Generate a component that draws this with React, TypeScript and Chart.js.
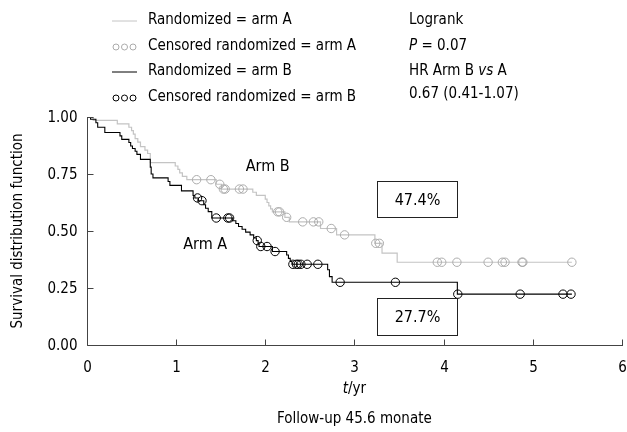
import React, { useEffect, useRef } from 'react';
import { Chart, registerables } from 'chart.js';

Chart.register(...registerables);

// ---- Data ----
// Arm drawn in light gray (legend: "Randomized = arm A", on-plot label "Arm B")
const grayTimes = [0, 0.07, 0.34, 0.47, 0.50, 0.52, 0.54, 0.57, 0.60, 0.65, 0.68, 0.71, 0.99, 1.02, 1.04, 1.07, 1.12, 1.45, 1.51, 1.86, 1.90, 2.00, 2.02, 2.04, 2.06, 2.08, 2.22, 2.27, 2.62, 2.80, 3.23, 3.31, 3.48, 5.44];
const graySurv = [1.0, 0.985, 0.97, 0.955, 0.94, 0.925, 0.905, 0.89, 0.87, 0.855, 0.84, 0.80, 0.785, 0.77, 0.755, 0.74, 0.725, 0.705, 0.684, 0.67, 0.656, 0.64, 0.625, 0.61, 0.597, 0.584, 0.56, 0.54, 0.511, 0.483, 0.446, 0.403, 0.363, 0.363];
const grayCensored = [1.23, 1.39, 1.49, 1.53, 1.55, 1.71, 1.75, 2.14, 2.16, 2.24, 2.42, 2.54, 2.60, 2.74, 2.89, 3.24, 3.28, 3.93, 3.98, 4.15, 4.50, 4.66, 4.69, 4.88, 4.89, 5.44];

// Arm drawn in black (legend: "Randomized = arm B", on-plot label "Arm A")
const blackTimes = [0, 0.04, 0.10, 0.12, 0.20, 0.37, 0.39, 0.47, 0.49, 0.51, 0.54, 0.56, 0.60, 0.71, 0.72, 0.74, 0.91, 0.93, 1.06, 1.19, 1.21, 1.25, 1.31, 1.33, 1.36, 1.40, 1.63, 1.67, 1.70, 1.74, 1.78, 1.83, 1.87, 1.90, 1.92, 1.93, 2.08, 2.24, 2.26, 2.28, 2.30, 2.70, 2.72, 2.75, 4.155, 5.44];
const blackSurv = [1.0, 0.99, 0.975, 0.955, 0.932, 0.917, 0.902, 0.888, 0.873, 0.862, 0.85, 0.836, 0.814, 0.78, 0.75, 0.733, 0.717, 0.70, 0.676, 0.656, 0.645, 0.633, 0.615, 0.60, 0.585, 0.557, 0.545, 0.533, 0.52, 0.508, 0.495, 0.483, 0.47, 0.458, 0.445, 0.432, 0.41, 0.395, 0.38, 0.366, 0.354, 0.33, 0.30, 0.275, 0.223, 0.223];
const blackCensored = [1.24, 1.29, 1.45, 1.58, 1.60, 1.91, 1.95, 2.02, 2.11, 2.31, 2.35, 2.37, 2.40, 2.47, 2.59, 2.84, 3.46, 4.16, 4.86, 5.34, 5.43];

const xTickValues = [0, 1, 2, 3, 4, 5, 6];
const xTickLabels = ['0', '1', '2', '3', '4', '5', '6'];
const yTickValues = [0, 0.25, 0.5, 0.75, 1];
const yTickLabels = ['0.00', '0.25', '0.50', '0.75', '1.00'];

const legendLabels = [
  'Randomized = arm A',
  'Censored randomized = arm A',
  'Randomized = arm B',
  'Censored randomized = arm B',
];
const armLabels = ['Arm B', 'Arm A'];
const boxLabels = ['47.4%', '27.7%'];
const yTitle = 'Survival distribution function';
const xTitle = '/yr';
const subTitle = 'Follow-up 45.6 monate';

// ---- Styles ----
const FONT = '"DejaVu Sans Condensed", "DejaVu Sans", sans-serif';
const GRAY_LINE = '#c4c4c4';
const GRAY_MARK = '#ababab';
const AXIS = '#444444';

function survAt(times: number[], surv: number[], t: number) {
  let s = surv[0];
  for (let i = 0; i < times.length; i++) {
    if (times[i] <= t) s = surv[i];
  }
  return s;
}

type Seg = { text: string; italic?: boolean };

function drawSegs(ctx: CanvasRenderingContext2D, segs: Seg[], x: number, y: number, size: number, align: 'left' | 'center') {
  const fonts = segs.map((s) => `${s.italic ? 'italic ' : ''}${size}px ${FONT}`);
  const widths = segs.map((s, i) => {
    ctx.font = fonts[i];
    return ctx.measureText(s.text).width;
  });
  const total = widths.reduce((a, b) => a + b, 0);
  let cx = align === 'center' ? x - total / 2 : x;
  ctx.textAlign = 'left';
  ctx.textBaseline = 'middle';
  segs.forEach((s, i) => {
    ctx.font = fonts[i];
    ctx.fillText(s.text, cx, y);
    cx += widths[i];
  });
}

const decorPlugin = {
  id: 'decor',
  afterDraw(chart: any) {
    const ctx: CanvasRenderingContext2D = chart.ctx;
    const xs = chart.scales.x;
    const ys = chart.scales.y;
    ctx.save();
    ctx.fillStyle = '#000';
    ctx.strokeStyle = AXIS;
    ctx.lineWidth = 1;

    // axes
    const x0 = Math.round(xs.getPixelForValue(0)) + 0.5;
    const y0 = Math.round(ys.getPixelForValue(0)) + 0.5;
    ctx.beginPath();
    ctx.moveTo(x0, Math.round(ys.getPixelForValue(1)));
    ctx.lineTo(x0, y0);
    ctx.lineTo(Math.round(xs.getPixelForValue(6)) + 1, y0);
    ctx.stroke();

    // y ticks (inward) + labels
    ctx.font = `15px ${FONT}`;
    yTickValues.forEach((v, i) => {
      const py = Math.round(ys.getPixelForValue(v)) + 0.5;
      ctx.beginPath();
      ctx.moveTo(x0, py);
      ctx.lineTo(x0 + 6, py);
      ctx.stroke();
      ctx.textAlign = 'right';
      ctx.textBaseline = 'middle';
      ctx.fillText(yTickLabels[i], x0 - 10, py + 1);
    });
    // x ticks (inward) + labels
    xTickValues.forEach((v, i) => {
      const px = Math.round(xs.getPixelForValue(v)) + 0.5;
      ctx.beginPath();
      ctx.moveTo(px, y0);
      ctx.lineTo(px, y0 - 6);
      ctx.stroke();
      ctx.textAlign = 'center';
      ctx.textBaseline = 'middle';
      ctx.fillText(xTickLabels[i], px, y0 + 23);
    });

    // axis titles
    const midX = (xs.getPixelForValue(0) + xs.getPixelForValue(6)) / 2;
    drawSegs(ctx, [{ text: 't', italic: true }, { text: xTitle }], midX, y0 + 44, 15, 'center');
    drawSegs(ctx, [{ text: subTitle }], midX, y0 + 74, 15, 'center');
    ctx.save();
    ctx.translate(18, (ys.getPixelForValue(0) + ys.getPixelForValue(1)) / 2);
    ctx.rotate(-Math.PI / 2);
    drawSegs(ctx, [{ text: yTitle }], 0, 0, 15, 'center');
    ctx.restore();

    // on-plot arm labels
    ctx.fillStyle = '#000';
    drawSegs(ctx, [{ text: armLabels[0] }], xs.getPixelForValue(1.78), ys.getPixelForValue(0.78), 16, 'left');
    drawSegs(ctx, [{ text: armLabels[1] }], xs.getPixelForValue(1.08), ys.getPixelForValue(0.44), 16, 'left');

    // boxed percentages
    const boxes = [
      { t0: 3.25, t1: 4.15, s0: 0.56, s1: 0.72, label: boxLabels[0] },
      { t0: 3.25, t1: 4.15, s0: 0.045, s1: 0.205, label: boxLabels[1] },
    ];
    boxes.forEach((b) => {
      const bx0 = Math.round(xs.getPixelForValue(b.t0)) + 0.5;
      const bx1 = Math.round(xs.getPixelForValue(b.t1)) + 0.5;
      const by0 = Math.round(ys.getPixelForValue(b.s1)) + 0.5;
      const by1 = Math.round(ys.getPixelForValue(b.s0)) + 0.5;
      ctx.fillStyle = '#fff';
      ctx.fillRect(bx0, by0, bx1 - bx0, by1 - by0);
      ctx.strokeStyle = '#222';
      ctx.strokeRect(bx0, by0, bx1 - bx0, by1 - by0);
      ctx.fillStyle = '#000';
      drawSegs(ctx, [{ text: b.label }], (bx0 + bx1) / 2, (by0 + by1) / 2 + 1, 16, 'center');
    });

    // legend
    const lx0 = 112, lx1 = 137, tx = 148;
    const rows = [20.5, 46, 71.5, 97];
    ctx.lineWidth = 1;
    ctx.strokeStyle = GRAY_LINE;
    ctx.beginPath();
    ctx.moveTo(lx0, rows[0] + 0.5);
    ctx.lineTo(lx1, rows[0] + 0.5);
    ctx.stroke();
    ctx.strokeStyle = '#000';
    ctx.beginPath();
    ctx.moveTo(lx0, rows[2] + 0.5);
    ctx.lineTo(lx1, rows[2] + 0.5);
    ctx.stroke();
    [[rows[1], GRAY_MARK], [rows[3], '#000']].forEach(([ry, col]) => {
      ctx.strokeStyle = col as string;
      [116, 124.5, 133].forEach((cx) => {
        ctx.beginPath();
        ctx.arc(cx, (ry as number) + 1, 3, 0, Math.PI * 2);
        ctx.stroke();
      });
    });
    ctx.fillStyle = '#000';
    legendLabels.forEach((l, i) => drawSegs(ctx, [{ text: l }], tx, rows[i], 15, 'left'));

    // statistics
    const rx = 409;
    drawSegs(ctx, [{ text: 'Logrank' }], rx, rows[0], 15, 'left');
    drawSegs(ctx, [{ text: 'P', italic: true }, { text: ' = 0.07' }], rx, rows[1], 15, 'left');
    drawSegs(ctx, [{ text: 'HR Arm B ' }, { text: 'vs', italic: true }, { text: ' A' }], rx, rows[2], 15, 'left');
    drawSegs(ctx, [{ text: '0.67 (0.41-1.07)' }], rx, rows[3] - 3, 15, 'left');

    ctx.restore();
  },
};

export default function App() {
  const ref = useRef<HTMLCanvasElement | null>(null);

  useEffect(() => {
    if (!ref.current) return;
    const grayPts = grayTimes.map((t, i) => ({ x: t, y: graySurv[i] }));
    const blackPts = blackTimes.map((t, i) => ({ x: t, y: blackSurv[i] }));
    const grayCens = grayCensored.map((t) => ({ x: t, y: survAt(grayTimes, graySurv, t) }));
    const blackCens = blackCensored.map((t) => ({ x: t, y: survAt(blackTimes, blackSurv, t) }));

    const chart = new Chart(ref.current, {
      type: 'line',
      data: {
        datasets: [
          {
            data: grayPts,
            stepped: 'before',
            borderColor: GRAY_LINE,
            borderWidth: 1.2,
            pointRadius: 0,
            fill: false,
            order: 4,
          },
          {
            data: grayCens,
            showLine: false,
            pointRadius: 4.2,
            pointBorderColor: GRAY_MARK,
            pointBackgroundColor: 'rgba(0,0,0,0)',
            pointBorderWidth: 1,
            order: 3,
          },
          {
            data: blackPts,
            stepped: 'before',
            borderColor: '#000',
            borderWidth: 1.1,
            pointRadius: 0,
            fill: false,
            order: 2,
          },
          {
            data: blackCens,
            showLine: false,
            pointRadius: 4.2,
            pointBorderColor: '#000',
            pointBackgroundColor: 'rgba(0,0,0,0)',
            pointBorderWidth: 1,
            order: 1,
          },
        ],
      } as any,
      options: {
        animation: false,
        responsive: false,
        maintainAspectRatio: false,
        devicePixelRatio: 1,
        layout: { padding: { left: 87, right: 5, top: 117, bottom: 87 } },
        scales: {
          x: { type: 'linear', min: 0, max: 6, display: false },
          y: { type: 'linear', min: 0, max: 1, display: false },
        },
        plugins: { legend: { display: false }, tooltip: { enabled: false } },
      } as any,
      plugins: [decorPlugin],
    });
    return () => chart.destroy();
  }, []);

  return (
    <div style={{ position: 'absolute', left: 0, top: 0, width: 627, height: 432, background: '#fff' }}>
      <canvas ref={ref} width={627} height={432} style={{ display: 'block' }} />
    </div>
  );
}
